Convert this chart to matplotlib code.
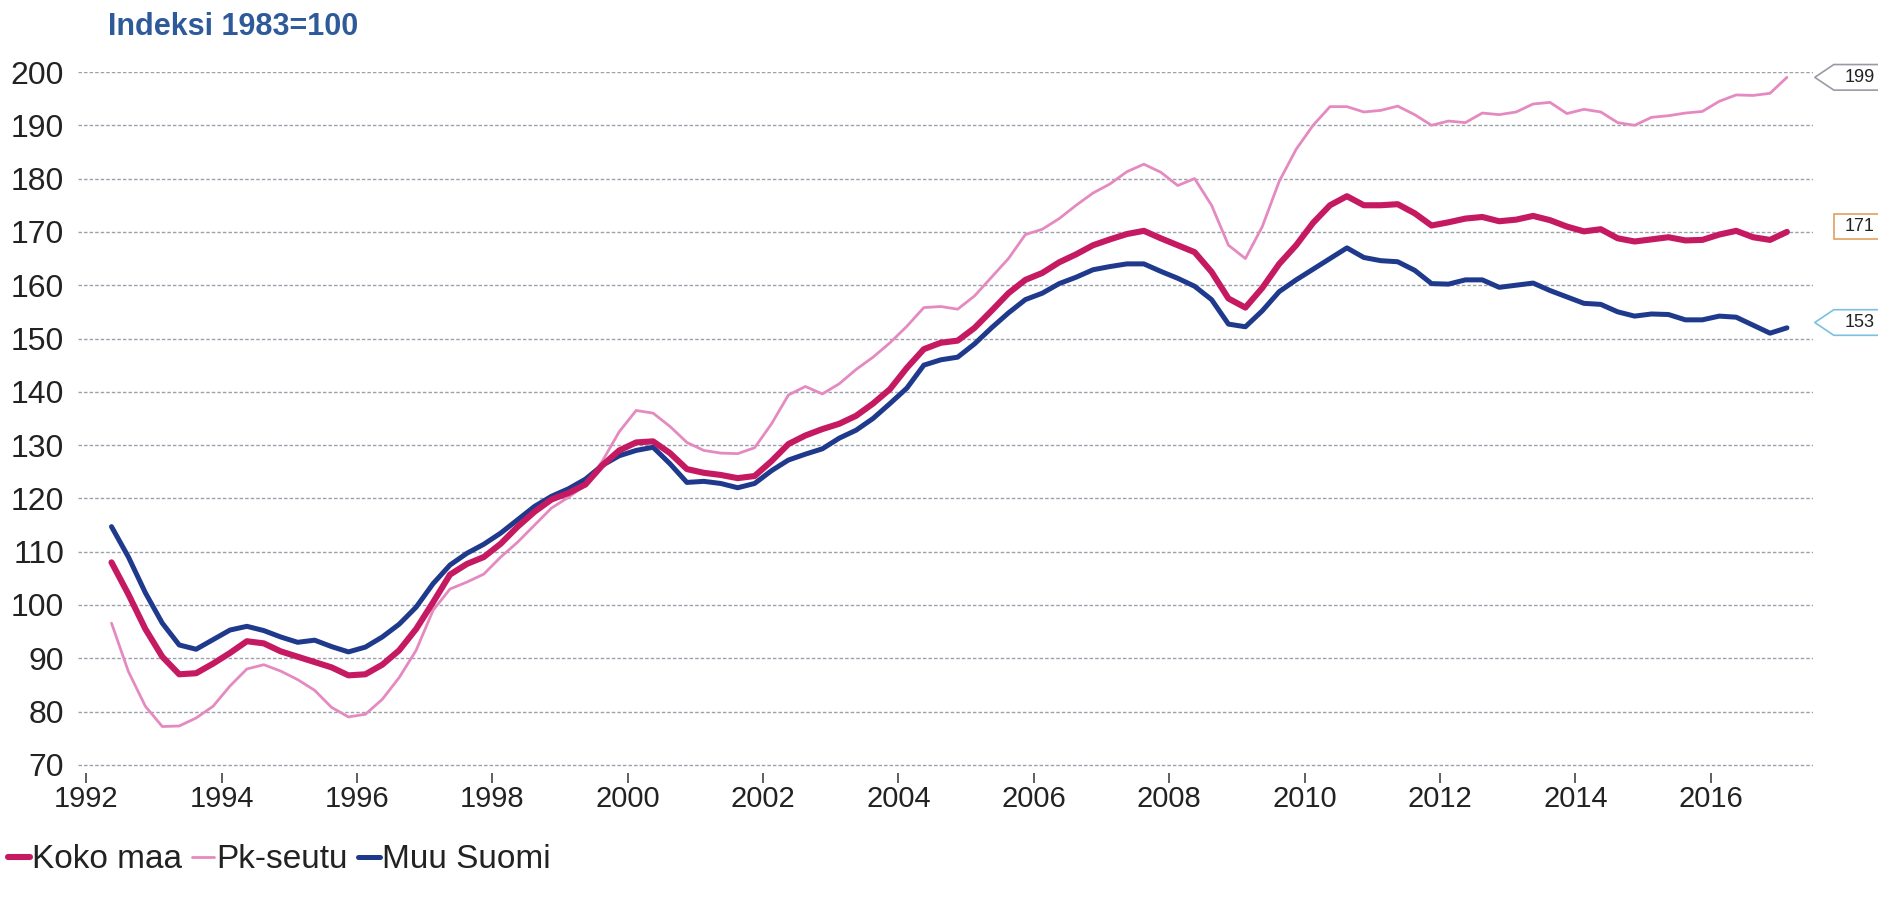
import matplotlib
matplotlib.use("Agg")
import matplotlib.pyplot as plt
from matplotlib.patches import Polygon
import numpy as np

plt.rcParams['font.family'] = ['Liberation Sans', 'DejaVu Sans']

# Quarterly observations 1992Q2 ... 2017Q1 (plotted at mid-quarter)
quarters = [f"{y}Q{q}" for y in range(1992, 2018) for q in range(1, 5)][1:101]

koko_maa = [
    108, 102, 95.5,
    90.3, 87, 87.2, 89,
    91, 93.2, 92.8, 91.3,
    90.3, 89.3, 88.3, 86.8,
    87, 88.8, 91.5, 95.5,
    100.5, 105.7, 107.7, 109,
    111.5, 114.7, 117.5, 119.8,
    121, 122.6, 126.2, 129,
    130.5, 130.7, 128.5, 125.5,
    124.8, 124.4, 123.8, 124.2,
    127, 130.2, 131.8, 133,
    134, 135.5, 137.8, 140.5,
    144.5, 148, 149.2, 149.6,
    152, 155.2, 158.5, 161,
    162.3, 164.3, 165.8, 167.5,
    168.6, 169.6, 170.2, 168.8,
    167.5, 166.2, 162.5, 157.5,
    155.8, 159.5, 164, 167.5,
    171.7, 175, 176.7, 175,
    175, 175.2, 173.5, 171.2,
    171.8, 172.5, 172.8, 172,
    172.3, 173, 172.2, 171,
    170.1, 170.5, 168.8, 168.2,
    168.6, 169, 168.4, 168.5,
    169.5, 170.2, 169, 168.5,
    170,
]

pk_seutu = [
    96.6, 87.5, 81,
    77.2, 77.3, 78.8, 81,
    84.8, 88, 88.8, 87.6,
    86, 84, 80.8, 79,
    79.5, 82.3, 86.4, 91.5,
    99, 103, 104.3, 105.8,
    109, 111.8, 115, 118.2,
    120.2, 122.5, 127, 132.5,
    136.5, 136, 133.5, 130.5,
    129, 128.5, 128.4, 129.5,
    134, 139.4, 141, 139.6,
    141.5, 144.2, 146.5, 149.2,
    152.3, 155.8, 156, 155.5,
    158, 161.5, 165, 169.5,
    170.5, 172.5, 175, 177.3,
    179, 181.3, 182.7, 181.2,
    178.7, 180, 175, 167.5,
    165, 171, 179.5, 185.5,
    190, 193.5, 193.5, 192.5,
    192.8, 193.6, 192, 190,
    190.8, 190.5, 192.3, 192,
    192.5, 194, 194.3, 192.2,
    193, 192.5, 190.5, 190,
    191.5, 191.8, 192.3, 192.6,
    194.5, 195.7, 195.6, 196,
    199,
]

muu_suomi = [
    114.7, 109, 102.3,
    96.6, 92.5, 91.7, 93.5,
    95.3, 96, 95.2, 94,
    93, 93.4, 92.2, 91.2,
    92.1, 94, 96.4, 99.6,
    104, 107.5, 109.7, 111.4,
    113.5, 116, 118.5, 120.4,
    121.8, 123.6, 126.2, 128,
    129, 129.6, 126.5, 123,
    123.2, 122.8, 122, 122.8,
    125.2, 127.2, 128.3, 129.3,
    131.3, 132.8, 135, 137.8,
    140.7, 145, 146, 146.5,
    149, 152, 154.8, 157.3,
    158.5, 160.3, 161.5, 162.9,
    163.5, 164, 164, 162.6,
    161.3, 159.8, 157.3, 152.7,
    152.2, 155.2, 158.8, 161,
    163, 165, 167, 165.2,
    164.6, 164.4, 162.8, 160.3,
    160.2, 161, 161, 159.6,
    160, 160.4, 159, 157.8,
    156.6, 156.4, 155, 154.2,
    154.6, 154.5, 153.5, 153.5,
    154.2, 154, 152.5, 151,
    152,
]

series_names = ["Koko maa", "Pk-seutu", "Muu Suomi"]
end_labels = ["199", "171", "153"]
end_label_values = [199, 171, 153]
year_ticks = list(range(1992, 2017, 2))
y_ticks = list(range(70, 201, 10))
title = "Indeksi 1983=100"

# quarter label -> decimal year (mid-quarter)
t = np.array([int(q[:4]) + (int(q[-1]) - 1) * 0.25 + 0.125 for q in quarters])

W, H = 1878, 911
fig = plt.figure(figsize=(W / 100, H / 100), dpi=100)
fig.patch.set_facecolor("white")

left_px, right_px = 78, 1813
top_px = 72
ylo, yhi = 68.5, 200
px_per_unit = 5.33
bottom_px = top_px + (yhi - ylo) * px_per_unit
ax = fig.add_axes([left_px / W, 1 - bottom_px / H, (right_px - left_px) / W,
                   (bottom_px - top_px) / H])
ax.set_xlim(1991.88, 2017.51)
ax.set_ylim(ylo, yhi)

for s in ax.spines.values():
    s.set_visible(False)

ax.set_yticks(y_ticks)
ax.set_xticks(year_ticks)
ax.tick_params(axis='y', length=0, pad=10, labelsize=23, labelcolor='#222222')
ax.tick_params(axis='x', length=7, width=1.2, color='#444444', direction='out',
               pad=2, labelsize=21, labelcolor='#222222')
ax.grid(axis='y', color='#9aa0ac', linestyle=(0, (2.5, 1.5)), linewidth=1.0)
ax.set_axisbelow(True)

c_koko = '#c51a62'
c_pk = '#e58ac0'
c_muu = '#1f3a8c'

ax.plot(t, pk_seutu, color=c_pk, lw=2.0, label=series_names[1], solid_capstyle='round')
ax.plot(t, muu_suomi, color=c_muu, lw=3.6, label=series_names[2], solid_capstyle='round')
ax.plot(t, koko_maa, color=c_koko, lw=4.4, label=series_names[0], solid_capstyle='round')

# end-value callout boxes on the right
trans = ax.get_yaxis_transform()
box_edge = ['#9a9aa6', '#e0a060', '#7cc0e0']
pointed = [True, False, True]
for lab, val, ec, pt in zip(end_labels, end_label_values, box_edge, pointed):
    h = 2.4
    x0, x1, x2 = 1.001, 1.012, 1.06
    if pt:
        pts = [(x0, val), (x1, val + h), (x2, val + h), (x2, val - h), (x1, val - h)]
    else:
        pts = [(x1, val + h), (x2, val + h), (x2, val - h), (x1, val - h)]
    poly = Polygon(pts, closed=True, transform=trans, clip_on=False,
                   facecolor='white', edgecolor=ec, lw=1.2)
    ax.add_patch(poly)
    ax.text(1.018, val, lab, transform=trans, ha='left', va='center',
            fontsize=13, color='#222222', clip_on=False)

fig.text(108 / W, 1 - 27 / H, title, ha='left', va='center', fontsize=22,
         fontweight='bold', color='#2f5a9a')

handles, labels = ax.get_legend_handles_labels()
order = [2, 0, 1]
leg = fig.legend([handles[i] for i in order], [labels[i] for i in order],
                 loc='center left', bbox_to_anchor=(8 / W, 1 - 860 / H), ncol=3,
                 frameon=False, fontsize=24, handlelength=0.65, handletextpad=0.08,
                 columnspacing=0.3, borderpad=0, borderaxespad=0)
for txt in leg.get_texts():
    txt.set_color('#222222')

fig.savefig("out.png", dpi=100, facecolor='white')
